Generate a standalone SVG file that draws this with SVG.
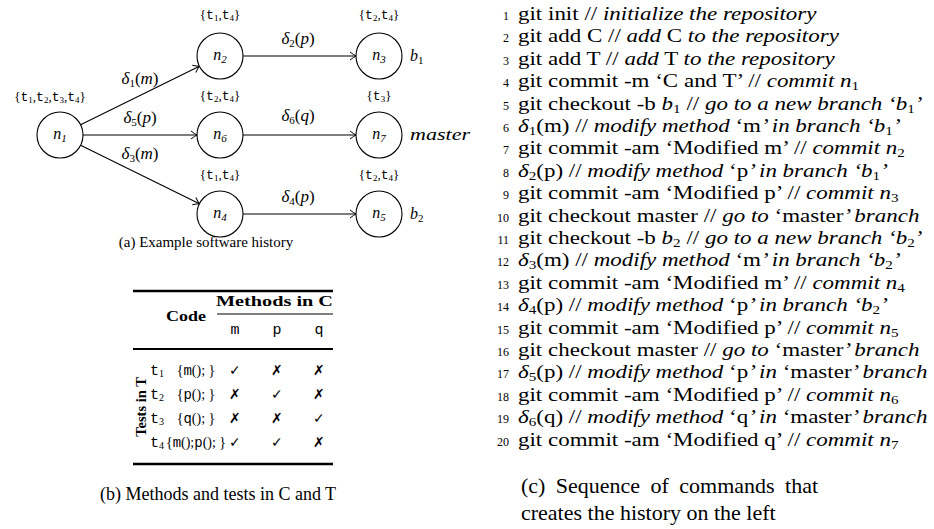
<svg xmlns="http://www.w3.org/2000/svg" width="934" height="529" viewBox="0 0 934 529">
<style>
text { font-family: "Liberation Serif", serif; fill: #000; }
.it { font-style: italic; }
.mono { font-family: "Liberation Mono", monospace; }
.b { font-weight: bold; }
.node circle { fill: #fff; stroke: #000; stroke-width: 1.1; }
.nl { font-size: 16px; font-style: italic; }
.set { font-size: 13px; }
.el { font-size: 17px; }
.edge { stroke: #000; stroke-width: 1.1; fill: none; marker-end: url(#arr); }
.rule { stroke: #000; }
.cmd { font-size: 19px; }
.num { font-size: 12px; }
.mk { font-family: "DejaVu Sans", sans-serif; font-size: 14px; }
</style>
<defs>
<marker id="arr" markerWidth="10" markerHeight="10" refX="0" refY="0" viewBox="-8 -5 10 10" orient="auto" markerUnits="userSpaceOnUse">
<path d="M -6,-4 Q -2,-1 0,0 Q -2,1 -6,4" fill="none" stroke="#000" stroke-width="1"/>
</marker>
</defs>

<g id="connectors">
<line class="edge" x1="80.6" y1="124.8" x2="199.4" y2="66.2"/>
<line class="edge" x1="83" y1="135" x2="197" y2="135"/>
<line class="edge" x1="80.6" y1="145.2" x2="199.4" y2="203.8"/>
<line class="edge" x1="243" y1="56" x2="356" y2="56"/>
<line class="edge" x1="243" y1="135" x2="356" y2="135"/>
<line class="edge" x1="243" y1="214" x2="356" y2="214"/>
<text class="el" x="140" y="84" text-anchor="middle"><tspan class="it">δ</tspan><tspan font-size="11" dy="3">1</tspan><tspan dy="-3">(</tspan><tspan class="it">m</tspan>)</text>
<text class="el" x="140" y="123" text-anchor="middle"><tspan class="it">δ</tspan><tspan font-size="11" dy="3">5</tspan><tspan dy="-3">(</tspan><tspan class="it">p</tspan>)</text>
<text class="el" x="140" y="159" text-anchor="middle"><tspan class="it">δ</tspan><tspan font-size="11" dy="3">3</tspan><tspan dy="-3">(</tspan><tspan class="it">m</tspan>)</text>
<text class="el" x="298" y="44" text-anchor="middle"><tspan class="it">δ</tspan><tspan font-size="11" dy="3">2</tspan><tspan dy="-3">(</tspan><tspan class="it">p</tspan>)</text>
<text class="el" x="298" y="121" text-anchor="middle"><tspan class="it">δ</tspan><tspan font-size="11" dy="3">6</tspan><tspan dy="-3">(</tspan><tspan class="it">q</tspan>)</text>
<text class="el" x="298" y="202" text-anchor="middle"><tspan class="it">δ</tspan><tspan font-size="11" dy="3">4</tspan><tspan dy="-3">(</tspan><tspan class="it">p</tspan>)</text>
</g>

<g id="n1" class="node">
<circle cx="60" cy="135" r="23"/>
<text class="nl" x="60" y="139" text-anchor="middle">n<tspan font-size="11" dy="3">1</tspan></text>
<text class="set" x="50" y="101" text-anchor="middle">{<tspan class="mono">t</tspan><tspan font-size="9" dy="2">1</tspan><tspan dy="-2">,</tspan><tspan class="mono">t</tspan><tspan font-size="9" dy="2">2</tspan><tspan dy="-2">,</tspan><tspan class="mono">t</tspan><tspan font-size="9" dy="2">3</tspan><tspan dy="-2">,</tspan><tspan class="mono">t</tspan><tspan font-size="9" dy="2">4</tspan><tspan dy="-2">}</tspan></text>
</g>
<g id="n2" class="node">
<circle cx="220" cy="56" r="23"/>
<text class="nl" x="220" y="60" text-anchor="middle">n<tspan font-size="11" dy="3">2</tspan></text>
<text class="set" x="220" y="19" text-anchor="middle">{<tspan class="mono">t</tspan><tspan font-size="9" dy="2">1</tspan><tspan dy="-2">,</tspan><tspan class="mono">t</tspan><tspan font-size="9" dy="2">4</tspan><tspan dy="-2">}</tspan></text>
</g>
<g id="n3" class="node">
<circle cx="379" cy="56" r="23"/>
<text class="nl" x="379" y="60" text-anchor="middle">n<tspan font-size="11" dy="3">3</tspan></text>
<text class="set" x="379" y="19" text-anchor="middle">{<tspan class="mono">t</tspan><tspan font-size="9" dy="2">2</tspan><tspan dy="-2">,</tspan><tspan class="mono">t</tspan><tspan font-size="9" dy="2">4</tspan><tspan dy="-2">}</tspan></text>
<text class="nl" x="410" y="61">b<tspan font-size="11" font-style="normal" dy="3">1</tspan></text>
</g>
<g id="n6" class="node">
<circle cx="220" cy="135" r="23"/>
<text class="nl" x="220" y="139" text-anchor="middle">n<tspan font-size="11" dy="3">6</tspan></text>
<text class="set" x="220" y="100" text-anchor="middle">{<tspan class="mono">t</tspan><tspan font-size="9" dy="2">2</tspan><tspan dy="-2">,</tspan><tspan class="mono">t</tspan><tspan font-size="9" dy="2">4</tspan><tspan dy="-2">}</tspan></text>
</g>
<g id="n7" class="node">
<circle cx="379" cy="135" r="23"/>
<text class="nl" x="379" y="139" text-anchor="middle">n<tspan font-size="11" dy="3">7</tspan></text>
<text class="set" x="379" y="100" text-anchor="middle">{<tspan class="mono">t</tspan><tspan font-size="9" dy="2">3</tspan><tspan dy="-2">}</tspan></text>
<text class="nl" x="410" y="140" textLength="60" lengthAdjust="spacingAndGlyphs">master</text>
</g>
<g id="n4" class="node">
<circle cx="220" cy="214" r="23"/>
<text class="nl" x="220" y="218" text-anchor="middle">n<tspan font-size="11" dy="3">4</tspan></text>
<text class="set" x="220" y="179" text-anchor="middle">{<tspan class="mono">t</tspan><tspan font-size="9" dy="2">1</tspan><tspan dy="-2">,</tspan><tspan class="mono">t</tspan><tspan font-size="9" dy="2">4</tspan><tspan dy="-2">}</tspan></text>
</g>
<g id="n5" class="node">
<circle cx="379" cy="214" r="23"/>
<text class="nl" x="379" y="218" text-anchor="middle">n<tspan font-size="11" dy="3">5</tspan></text>
<text class="set" x="379" y="179" text-anchor="middle">{<tspan class="mono">t</tspan><tspan font-size="9" dy="2">2</tspan><tspan dy="-2">,</tspan><tspan class="mono">t</tspan><tspan font-size="9" dy="2">4</tspan><tspan dy="-2">}</tspan></text>
<text class="nl" x="410" y="219">b<tspan font-size="11" font-style="normal" dy="3">2</tspan></text>
</g>

<text x="206" y="247" font-size="15" text-anchor="middle">(a) Example software history</text>

<g id="table">
<line class="rule" x1="133" y1="291" x2="333" y2="291" stroke-width="2.5"/>
<text class="b" x="216" y="306" font-size="15" textLength="117" lengthAdjust="spacingAndGlyphs">Methods in C</text>
<line class="rule" x1="217" y1="314" x2="333" y2="314" stroke-width="1"/>
<text class="b" x="166" y="321" font-size="15" textLength="40" lengthAdjust="spacingAndGlyphs">Code</text>
<text class="mono" x="235" y="334" font-size="15" text-anchor="middle">m</text>
<text class="mono" x="277" y="334" font-size="15" text-anchor="middle">p</text>
<text class="mono" x="319" y="334" font-size="15" text-anchor="middle">q</text>
<line class="rule" x1="133" y1="349" x2="333" y2="349" stroke-width="2"/>
<text class="b" font-size="14.5" transform="translate(146,407) rotate(-90)" text-anchor="middle">Tests in T</text>
<g font-size="14">
<text x="150" y="375"><tspan class="mono" font-size="15">t</tspan><tspan font-size="10" dy="2">1</tspan></text>
<text x="150" y="399"><tspan class="mono" font-size="15">t</tspan><tspan font-size="10" dy="2">2</tspan></text>
<text x="150" y="423"><tspan class="mono" font-size="15">t</tspan><tspan font-size="10" dy="2">3</tspan></text>
<text x="150" y="447"><tspan class="mono" font-size="15">t</tspan><tspan font-size="10" dy="2">4</tspan></text>
<text x="196" y="375" text-anchor="middle">{<tspan class="mono">m</tspan>(); }</text>
<text x="196" y="399" text-anchor="middle">{<tspan class="mono">p</tspan>(); }</text>
<text x="196" y="423" text-anchor="middle">{<tspan class="mono">q</tspan>(); }</text>
<text x="196" y="447" text-anchor="middle">{<tspan class="mono">m</tspan>();<tspan class="mono">p</tspan>(); }</text>
</g>
<g class="mk" text-anchor="middle">
<text x="235" y="375">✓</text><text x="277" y="375">✗</text><text x="319" y="375">✗</text>
<text x="235" y="399">✗</text><text x="277" y="399">✓</text><text x="319" y="399">✗</text>
<text x="235" y="423">✗</text><text x="277" y="423">✗</text><text x="319" y="423">✓</text>
<text x="235" y="447">✓</text><text x="277" y="447">✓</text><text x="319" y="447">✗</text>
</g>
<line class="rule" x1="133" y1="464" x2="333" y2="464" stroke-width="2.5"/>
</g>
<text x="218" y="500" font-size="18" text-anchor="middle">(b) Methods and tests in C and T</text>

<g id="numbers" class="num" text-anchor="end">
<text x="509" y="20">1</text><text x="509" y="42.4">2</text><text x="509" y="64.8">3</text><text x="509" y="87.2">4</text><text x="509" y="109.6">5</text>
<text x="509" y="132">6</text><text x="509" y="154.4">7</text><text x="509" y="176.8">8</text><text x="509" y="199.2">9</text><text x="509" y="221.6">10</text>
<text x="509" y="244">11</text><text x="509" y="266.4">12</text><text x="509" y="288.8">13</text><text x="509" y="311.2">14</text><text x="509" y="333.6">15</text>
<text x="509" y="356">16</text><text x="509" y="378.4">17</text><text x="509" y="400.8">18</text><text x="509" y="423.2">19</text><text x="509" y="445.6">20</text>
</g>
<g id="commands" class="cmd" transform="translate(518,0) scale(1.21,1)">
<text x="0" y="20">git init // <tspan class="it">initialize the repository</tspan></text>
<text x="0" y="42.4">git add C // <tspan class="it">add</tspan> C <tspan class="it">to the repository</tspan></text>
<text x="0" y="64.8">git add T // <tspan class="it">add</tspan> T <tspan class="it">to the repository</tspan></text>
<text x="0" y="87.2">git commit -m ‘C and T’ // <tspan class="it">commit n</tspan><tspan font-size="12.5" dy="3">1</tspan></text>
<text x="0" y="109.6">git checkout -b <tspan class="it">b</tspan><tspan font-size="12.5" dy="3">1</tspan><tspan dy="-3"> // </tspan><tspan class="it">go to a new branch ‘b</tspan><tspan font-size="12.5" dy="3">1</tspan><tspan class="it" dy="-3">’</tspan></text>
<text x="0" y="132"><tspan class="it">δ</tspan><tspan font-size="12.5" dy="3">1</tspan><tspan dy="-3">(m) // </tspan><tspan class="it">modify method</tspan> ‘m<tspan class="it">’ in branch ‘b</tspan><tspan font-size="12.5" dy="3">1</tspan><tspan class="it" dy="-3">’</tspan></text>
<text x="0" y="154.4">git commit -am ‘Modified m’ // <tspan class="it">commit n</tspan><tspan font-size="12.5" dy="3">2</tspan></text>
<text x="0" y="176.8"><tspan class="it">δ</tspan><tspan font-size="12.5" dy="3">2</tspan><tspan dy="-3">(p) // </tspan><tspan class="it">modify method</tspan> ‘p<tspan class="it">’ in branch ‘b</tspan><tspan font-size="12.5" dy="3">1</tspan><tspan class="it" dy="-3">’</tspan></text>
<text x="0" y="199.2">git commit -am ‘Modified p’ // <tspan class="it">commit n</tspan><tspan font-size="12.5" dy="3">3</tspan></text>
<text x="0" y="221.6">git checkout master // <tspan class="it">go to</tspan> ‘master<tspan class="it">’ branch</tspan></text>
<text x="0" y="244">git checkout -b <tspan class="it">b</tspan><tspan font-size="12.5" dy="3">2</tspan><tspan dy="-3"> // </tspan><tspan class="it">go to a new branch ‘b</tspan><tspan font-size="12.5" dy="3">2</tspan><tspan class="it" dy="-3">’</tspan></text>
<text x="0" y="266.4"><tspan class="it">δ</tspan><tspan font-size="12.5" dy="3">3</tspan><tspan dy="-3">(m) // </tspan><tspan class="it">modify method</tspan> ‘m<tspan class="it">’ in branch ‘b</tspan><tspan font-size="12.5" dy="3">2</tspan><tspan class="it" dy="-3">’</tspan></text>
<text x="0" y="288.8">git commit -am ‘Modified m’ // <tspan class="it">commit n</tspan><tspan font-size="12.5" dy="3">4</tspan></text>
<text x="0" y="311.2"><tspan class="it">δ</tspan><tspan font-size="12.5" dy="3">4</tspan><tspan dy="-3">(p) // </tspan><tspan class="it">modify method</tspan> ‘p<tspan class="it">’ in branch ‘b</tspan><tspan font-size="12.5" dy="3">2</tspan><tspan class="it" dy="-3">’</tspan></text>
<text x="0" y="333.6">git commit -am ‘Modified p’ // <tspan class="it">commit n</tspan><tspan font-size="12.5" dy="3">5</tspan></text>
<text x="0" y="356">git checkout master // <tspan class="it">go to</tspan> ‘master<tspan class="it">’ branch</tspan></text>
<text x="0" y="378.4"><tspan class="it">δ</tspan><tspan font-size="12.5" dy="3">5</tspan><tspan dy="-3">(p) // </tspan><tspan class="it">modify method</tspan> ‘p<tspan class="it">’ in</tspan> ‘master<tspan class="it">’ branch</tspan></text>
<text x="0" y="400.8">git commit -am ‘Modified p’ // <tspan class="it">commit n</tspan><tspan font-size="12.5" dy="3">6</tspan></text>
<text x="0" y="423.2"><tspan class="it">δ</tspan><tspan font-size="12.5" dy="3">6</tspan><tspan dy="-3">(q) // </tspan><tspan class="it">modify method</tspan> ‘q<tspan class="it">’ in</tspan> ‘master<tspan class="it">’ branch</tspan></text>
<text x="0" y="445.6">git commit -am ‘Modified q’ // <tspan class="it">commit n</tspan><tspan font-size="12.5" dy="3">7</tspan></text>
</g>
<g transform="translate(521,0) scale(1.1,1)">
<text x="0" y="493" font-size="20" word-spacing="4.5">(c) Sequence of commands that</text>
<text x="0" y="520" font-size="20">creates the history on the left</text>
</g>
</svg>
